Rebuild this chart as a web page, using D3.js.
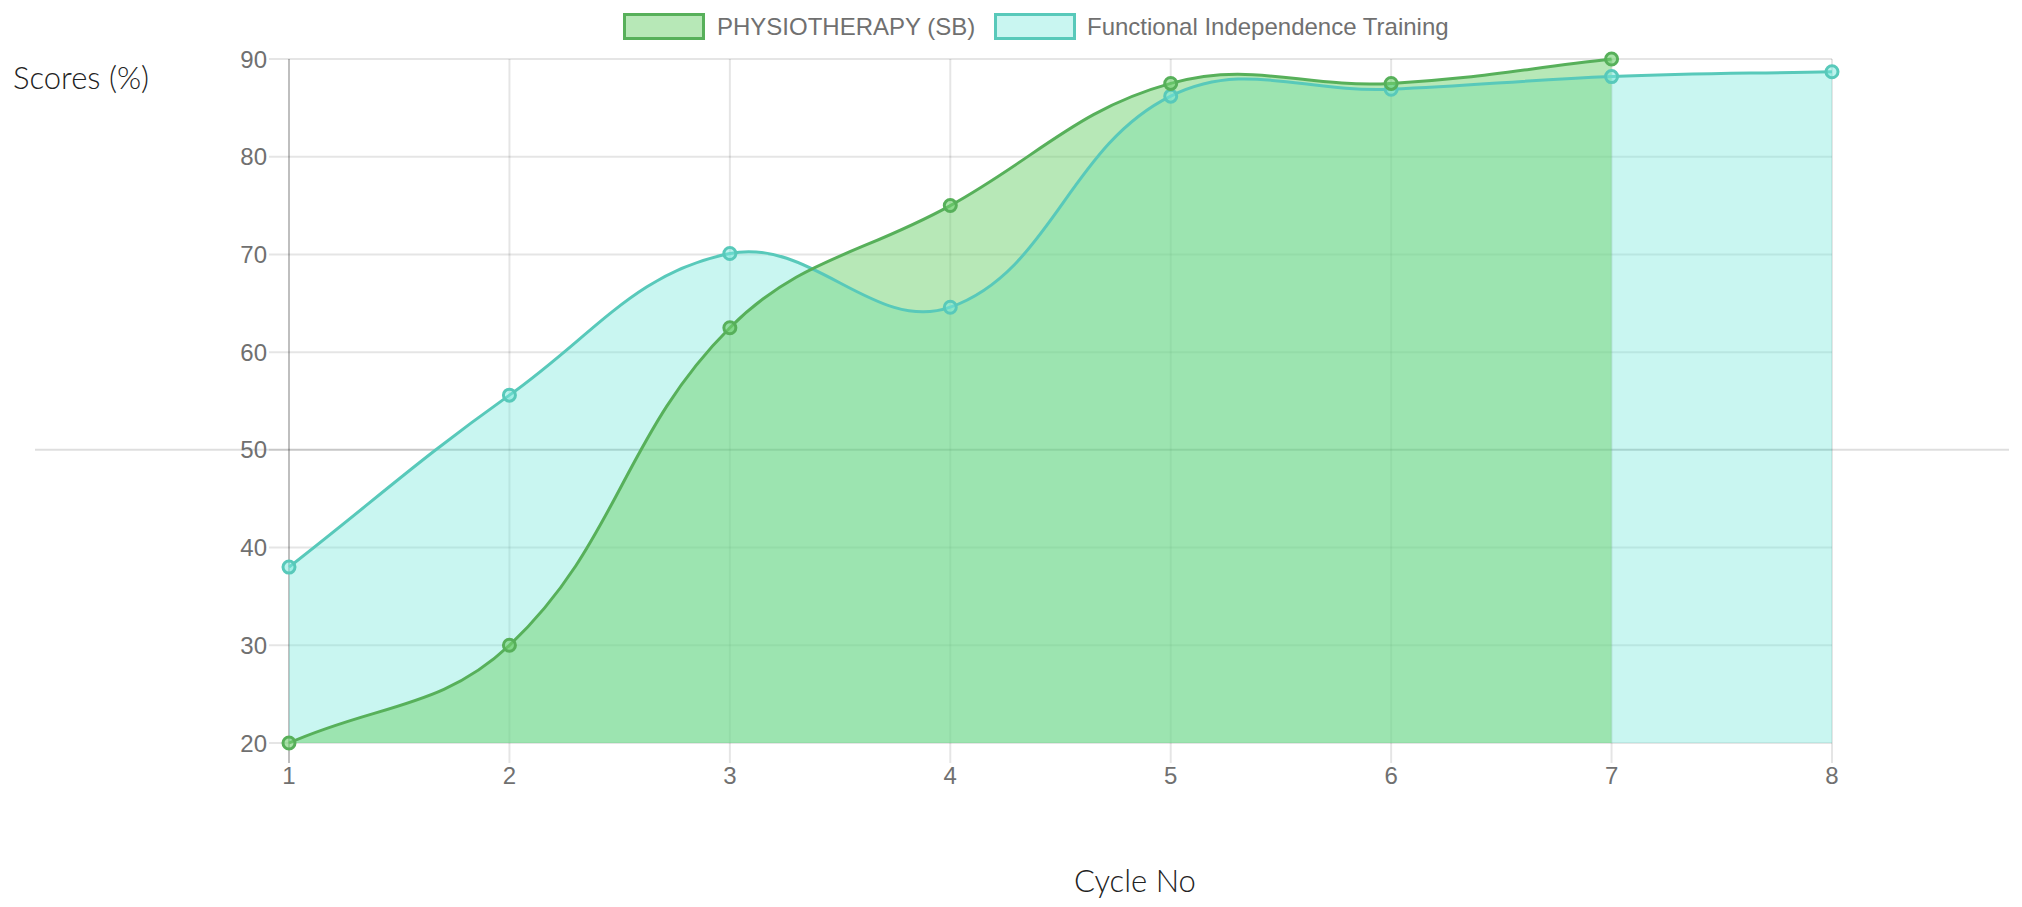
<!DOCTYPE html>
<html>
<head>
<meta charset="utf-8">
<script src="https://cdn.jsdelivr.net/npm/d3@7"></script>
<style>
html,body{margin:0;padding:0;background:#fff;}
svg{display:block;}
</style>
</head>
<body>
<svg id="chart" width="2022" height="907"></svg>
<script>
// ---- data ----
const cycles = ["1","2","3","4","5","6","7","8"];
const yTicks = [20,30,40,50,60,70,80,90];
const physioName = "PHYSIOTHERAPY (SB)";
const physioValues = [20, 30, 62.5, 75, 87.5, 87.5, 90];
const fitName = "Functional Independence Training";
const fitValues = [38, 55.6, 70.1, 64.6, 86.2, 86.9, 88.2, 88.7];
const yTitle = "Scores (%)";
const xTitle = "Cycle No";

// ---- layout ----
const L = 289, R = 1832, T = 59, B = 743;
const svg = d3.select("#chart");
const x = d3.scalePoint().domain(cycles).range([L, R]);
const y = d3.scaleLinear().domain([20, 90]).range([B, T]);

const series = [
  {name: physioName, values: physioValues, stroke: "#57b05a", fill: "rgba(111,209,111,0.5)", pfill: "rgba(111,209,111,0.6)"},
  {name: fitName, values: fitValues, stroke: "#58c9ba", fill: "rgba(120,232,220,0.4)", pfill: "rgba(120,232,220,0.5)"}
];

const tickFont = "'Liberation Sans', Arial, Helvetica, sans-serif";

// ---- grid ----
const g = svg.append("g");
g.selectAll("line.hy").data(yTicks).join("line")
  .attr("x1", L - 20).attr("x2", R)
  .attr("y1", d => y(d)).attr("y2", d => y(d))
  .attr("stroke", "rgba(0,0,0,0.1)").attr("stroke-width", 2);
g.selectAll("line.vx").data(cycles).join("line")
  .attr("x1", d => x(d)).attr("x2", d => x(d))
  .attr("y1", T).attr("y2", B + 20)
  .attr("stroke", (d, i) => i === 0 ? "rgba(0,0,0,0.25)" : "rgba(0,0,0,0.1)")
  .attr("stroke-width", 2);
g.append("line").attr("x1", 35).attr("x2", 2009)
  .attr("y1", y(50)).attr("y2", y(50))
  .attr("stroke", "rgba(0,0,0,0.13)").attr("stroke-width", 2);

g.selectAll("text.yt").data(yTicks).join("text")
  .attr("x", L - 22).attr("y", d => y(d)).attr("dy", "0.36em")
  .attr("text-anchor", "end").attr("fill", "#707070")
  .style("font-family", tickFont).style("font-size", "24px")
  .text(d => d);
g.selectAll("text.xt").data(cycles).join("text")
  .attr("x", d => x(d)).attr("y", 784)
  .attr("text-anchor", "middle").attr("fill", "#707070")
  .style("font-family", tickFont).style("font-size", "24px")
  .text(d => d);

// ---- spline (Chart.js style, tension 0.4) ----
function controlPoints(pts, t) {
  const cps = [];
  for (let i = 0; i < pts.length; i++) {
    const p = pts[Math.max(0, i - 1)], c = pts[i], n = pts[Math.min(pts.length - 1, i + 1)];
    const d01 = Math.hypot(c[0] - p[0], c[1] - p[1]);
    const d12 = Math.hypot(n[0] - c[0], n[1] - c[1]);
    let s01 = d01 / (d01 + d12), s12 = d12 / (d01 + d12);
    if (isNaN(s01)) s01 = 0; if (isNaN(s12)) s12 = 0;
    const fa = s01 * t, fb = s12 * t;
    const clampX = v => Math.max(L, Math.min(R, v));
    const clampY = v => Math.max(T, Math.min(B, v));
    cps.push({
      px: clampX(c[0] - fa * (n[0] - p[0])), py: clampY(c[1] - fa * (n[1] - p[1])),
      nx: clampX(c[0] + fb * (n[0] - p[0])), ny: clampY(c[1] + fb * (n[1] - p[1]))
    });
  }
  return cps;
}
function splinePath(pts, close) {
  const cps = controlPoints(pts, 0.4);
  const p = d3.path();
  p.moveTo(pts[0][0], pts[0][1]);
  for (let i = 1; i < pts.length; i++) {
    p.bezierCurveTo(cps[i - 1].nx, cps[i - 1].ny, cps[i].px, cps[i].py, pts[i][0], pts[i][1]);
  }
  if (close) {
    p.lineTo(pts[pts.length - 1][0], B);
    p.lineTo(pts[0][0], B);
    p.closePath();
  }
  return p.toString();
}

series.forEach(s => { s.pts = s.values.map((v, i) => [x(cycles[i]), y(v)]); });
const order = series.slice().reverse();
order.forEach(s => {
  svg.append("path").attr("d", splinePath(s.pts, true)).attr("fill", s.fill).attr("stroke", "none");
});
order.forEach(s => {
  svg.append("path").attr("d", splinePath(s.pts, false))
    .attr("fill", "none").attr("stroke", s.stroke).attr("stroke-width", 3);
  svg.append("g").selectAll("circle").data(s.pts).join("circle")
    .attr("cx", d => d[0]).attr("cy", d => d[1]).attr("r", 6)
    .attr("fill", s.pfill).attr("stroke", s.stroke).attr("stroke-width", 3);
});

// ---- legend ----
const legend = [
  {s: series[0], bx: 623, tx: 717},
  {s: series[1], bx: 994, tx: 1087}
];
legend.forEach(l => {
  svg.append("rect").attr("x", l.bx + 1.5).attr("y", 14.5).attr("width", 79).attr("height", 24)
    .attr("fill", l.s.fill).attr("stroke", l.s.stroke).attr("stroke-width", 3);
  svg.append("text").attr("x", l.tx).attr("y", 35).attr("fill", "#707070")
    .style("font-family", tickFont).style("font-size", "24px").text(l.s.name);
});

// ---- axis titles ----
svg.append("text").attr("x", 13).attr("y", 89).attr("fill", "#222")
  .style("font-family", "Lato, 'Open Sans', sans-serif").style("font-weight", 300).style("font-size", "31px")
  .text(yTitle);
svg.append("text").attr("x", 1074).attr("y", 892).attr("fill", "#222")
  .style("font-family", "Lato, 'Open Sans', sans-serif").style("font-weight", 300).style("font-size", "31px")
  .text(xTitle);
</script>
</body>
</html>
